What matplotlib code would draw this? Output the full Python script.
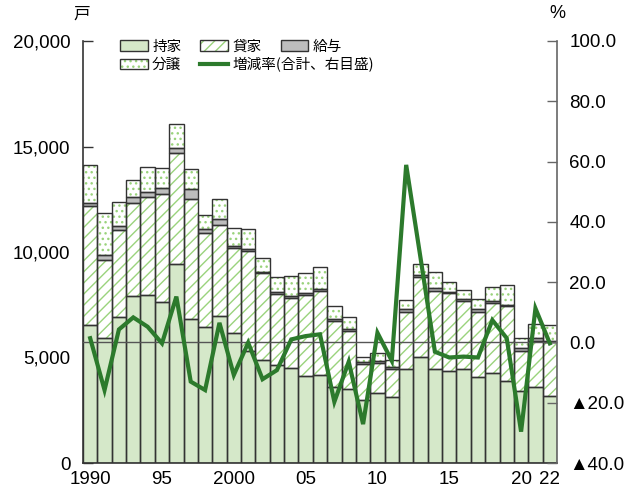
import numpy as np
import matplotlib.pyplot as plt
from matplotlib.patches import Patch
from matplotlib.lines import Line2D
from matplotlib.legend_handler import HandlerTuple

# data (units: 戸, rate in %)
years = list(range(1990, 2023))
mochiie = [6540, 5920, 6930, 7930, 7960, 7620, 9420, 6810, 6430, 6970, 6180,
           5320, 4880, 4640, 4490, 4120, 4170, 3590, 3520, 2990, 3330, 3110,
           4460, 5010, 4470, 4370, 4440, 4060, 4250, 3900, 3430, 3620, 3180]
kashiya = [5640, 3700, 4110, 4380, 4630, 5130, 5290, 5700, 4460, 4320, 4020,
           4730, 4110, 3380, 3340, 3840, 4000, 3150, 2750, 1700, 1420, 1360,
           2710, 3790, 3700, 3670, 3240, 3110, 3320, 3550, 1890, 2180, 2550]
kyuyo = [150, 240, 190, 290, 260, 270, 210, 460, 190, 260, 100,
         100, 80, 70, 70, 90, 90, 80, 90, 110, 100, 100,
         110, 110, 110, 80, 90, 110, 120, 40, 110, 110, 30]
bunjo = [1780, 1980, 1120, 790, 1190, 960, 1150, 960, 650, 950, 820,
         930, 660, 710, 980, 960, 1010, 620, 570, 240, 350, 320,
         440, 510, 790, 470, 430, 490, 640, 950, 480, 680, 780]
rate = [1.4, -15.8, 4.3, 8.3, 5.2, -0.3, 15.2, -13.0, -15.8, 6.5, -10.8,
        -0.1, -12.2, -9.2, 1.0, 2.1, 2.7, -19.7, -6.4, -27.1, 3.2, -6.1,
        58.9, 28.0, -3.1, -5.0, -4.7, -5.0, 7.4, 1.4, -29.6, 11.3, -0.3]

xtick_pos = [1990, 1995, 2000, 2005, 2010, 2015, 2020, 2022]
xtick_lab = ['1990', '95', '2000', '05', '10', '15', '20', '22']

EDGE = '#333333'
LINE = '#2c7a2c'
GREEN_FILL = '#d5e8c9'
HATCH_COL = '#9ad37c'
HATCH_LINES = '///'
HATCH_DOTS = '...'

plt.rcParams['hatch.linewidth'] = 1.0
num_font = ['Liberation Sans', 'DejaVu Sans']
jp_font = ['Noto Sans CJK JP', 'DejaVu Sans']

fig = plt.figure(figsize=(6.36, 4.97), dpi=100)
ax = fig.add_axes([83/636, 34/497, 474/636, 422/497])

x = np.array([years.index(y) for y in years])
layers = [
    (mochiie, GREEN_FILL, GREEN_FILL, None),
    (kashiya, 'white', HATCH_COL, HATCH_LINES),
    (kyuyo, '#bdbdbd', '#bdbdbd', None),
    (bunjo, 'white', HATCH_COL, HATCH_DOTS),
]
bottom = np.zeros(len(years))
for vals, face, hcol, hatch in layers:
    vals = np.array(vals)
    ax.bar(x, vals, 1.0, bottom=bottom, color=face, edgecolor=hcol,
           hatch=hatch, lw=0, zorder=2)
    ax.bar(x, vals, 1.0, bottom=bottom, fill=False, edgecolor=EDGE,
           lw=1.0, zorder=3)
    bottom += vals

ax.set_xlim(-0.5, len(years) - 0.5)
ax.set_ylim(0, 20000)
ax.set_yticks([0, 5000, 10000, 15000, 20000])
ax.set_yticklabels(['0', '5,000', '10,000', '15,000', '20,000'],
                   family=num_font, fontsize=13.5)
ax.set_xticks([years.index(y) for y in xtick_pos])
ax.set_xticklabels(xtick_lab, family=num_font, fontsize=13.5)
ax.tick_params(axis='x', length=0, pad=6)
ax.tick_params(axis='y', direction='in', length=7, width=1, color=EDGE, pad=9)
ax.spines['top'].set_visible(False)
ax.spines['right'].set_visible(False)
ax.spines['left'].set_color(EDGE)
ax.spines['bottom'].set_color(EDGE)
ax.spines['left'].set_linewidth(1.2)
ax.spines['bottom'].set_linewidth(1.2)

ax2 = ax.twinx()
ax2.set_ylim(-40, 100)
rticks = [-40, -20, 0, 20, 40, 60, 80, 100]
ax2.set_yticks(rticks)
ax2.set_yticklabels([('▲%.1f' % -t) if t < 0 else '%.1f' % t for t in rticks],
                    family=num_font, fontsize=13.5)
ax2.tick_params(axis='y', direction='in', length=7, width=1, color='#666666', pad=9)
ax2.spines['top'].set_visible(False)
ax2.spines['left'].set_visible(False)
ax2.spines['bottom'].set_visible(False)
ax2.spines['right'].set_color('#666666')
ax2.spines['right'].set_linewidth(1.2)
ax2.axhline(0, color='#555555', lw=1.0, zorder=1)
ax2.plot(x, rate, color=LINE, lw=3, zorder=3, solid_joinstyle='miter')

fig.text(82/636, 1 - 14/497, '戸', family=jp_font, fontsize=12, ha='center', va='center')
fig.text(557/636, 1 - 14/497, '%', family=num_font, fontsize=13, ha='center', va='center')

# legend, built as two rows
def hpatch(face, hcol, hatch):
    return (Patch(facecolor=face, edgecolor=hcol, hatch=hatch, lw=0),
            Patch(fill=False, edgecolor=EDGE, lw=1.0))

h_mochi = hpatch(GREEN_FILL, GREEN_FILL, None)
h_kashi = hpatch('white', HATCH_COL, HATCH_LINES)
h_kyuyo = hpatch('#bdbdbd', '#bdbdbd', None)
h_bunjo = hpatch('white', HATCH_COL, HATCH_DOTS)
h_rate = Line2D([], [], color=LINE, lw=3)

leg_kw = dict(frameon=False, borderpad=0, borderaxespad=0, handlelength=1.9,
              handleheight=0.75, handletextpad=0.3, columnspacing=1.3,
              prop={'family': jp_font, 'size': 10.5},
              handler_map={tuple: HandlerTuple(ndivide=1, pad=0)})
leg1 = fig.legend([h_mochi, h_kashi, h_kyuyo], ['持家', '貸家', '給与'],
                  loc='center left', bbox_to_anchor=(120/636, 1 - 46.5/497),
                  ncol=3, **leg_kw)
leg2 = fig.legend([h_bunjo, h_rate], ['分譲', '増減率(合計、右目盛)'],
                  loc='center left', bbox_to_anchor=(120/636, 1 - 64.5/497),
                  ncol=2, **leg_kw)

fig.savefig('out.png', dpi=100)
